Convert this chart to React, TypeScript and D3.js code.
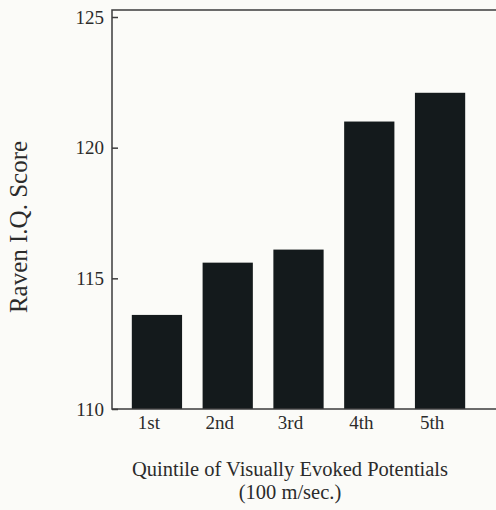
import { useEffect, useRef } from 'react';
import * as d3 from 'd3';

const QUINTILES = ['1st', '2nd', '3rd', '4th', '5th'];
const IQ_SCORES = [113.6, 115.6, 116.1, 121.0, 122.1];
const Y_TICKS = [110, 115, 120, 125];
const Y_TITLE = 'Raven I.Q. Score';
const X_TITLE = ['Quintile of Visually Evoked Potentials', '(100 m/sec.)'];

const WIDTH = 496;
const HEIGHT = 510;
const FONT = '"Liberation Serif", "DejaVu Serif", serif';
const INK = '#2b2b2b';

export default function App() {
  const svgRef = useRef<SVGSVGElement>(null);

  useEffect(() => {
    if (!svgRef.current) return;
    const svg = d3.select(svgRef.current);
    svg.selectAll('*').remove();

    const left = 112;
    const frameTop = 10;
    const bottom = 409;

    const x = d3.scaleBand<string>()
      .domain(QUINTILES)
      .range([left, 485])
      .paddingInner(0.29)
      .paddingOuter(0.28);
    const y = d3.scaleLinear().domain([110, 125]).range([bottom, 17]);

    svg.append('rect').attr('width', WIDTH).attr('height', HEIGHT).attr('fill', '#fbfbf8');

    // bars
    svg.append('g').selectAll('rect').data(QUINTILES).join('rect')
      .attr('x', d => x(d)!)
      .attr('width', x.bandwidth())
      .attr('y', (d, i) => y(IQ_SCORES[i]))
      .attr('height', (d, i) => bottom - y(IQ_SCORES[i]))
      .attr('fill', '#141a1c');

    // frame: left + top + bottom, open on the right
    svg.append('path')
      .attr('d', `M${WIDTH},${frameTop}H${left}V${bottom}H${WIDTH}`)
      .attr('fill', 'none').attr('stroke', '#3c3c3c').attr('stroke-width', 1.5);

    svg.append('g')
      .attr('transform', `translate(${left},0)`)
      .call(d3.axisLeft(y).tickValues(Y_TICKS).tickSizeInner(-6).tickSizeOuter(0).tickPadding(8))
      .call(g => g.select('.domain').remove())
      .call(g => g.selectAll('.tick line').attr('stroke', '#3c3c3c').attr('stroke-width', 1.5))
      .call(g => g.selectAll('.tick text')
        .attr('fill', INK).attr('font-size', 19).attr('font-family', FONT));

    svg.append('g')
      .attr('transform', `translate(0,${bottom})`)
      .call(d3.axisBottom(x).tickSize(0).tickPadding(7))
      .call(g => g.select('.domain').remove())
      .call(g => g.selectAll('.tick text')
        .attr('dx', -8)
        .attr('fill', INK).attr('font-size', 19).attr('font-family', FONT));

    svg.append('text')
      .attr('transform', `translate(27,227) rotate(-90)`)
      .attr('text-anchor', 'middle')
      .attr('fill', INK).attr('font-size', 25).attr('font-family', FONT)
      .text(Y_TITLE);

    svg.append('g').selectAll('text').data(X_TITLE).join('text')
      .attr('x', 290)
      .attr('y', (d, i) => 476 + i * 23)
      .attr('text-anchor', 'middle')
      .attr('fill', INK).attr('font-size', 20.5).attr('font-family', FONT)
      .text(d => d);
  }, []);

  return (
    <svg
      ref={svgRef}
      width={WIDTH}
      height={HEIGHT}
      style={{ position: 'absolute', left: 0, top: 0, display: 'block' }}
    />
  );
}
